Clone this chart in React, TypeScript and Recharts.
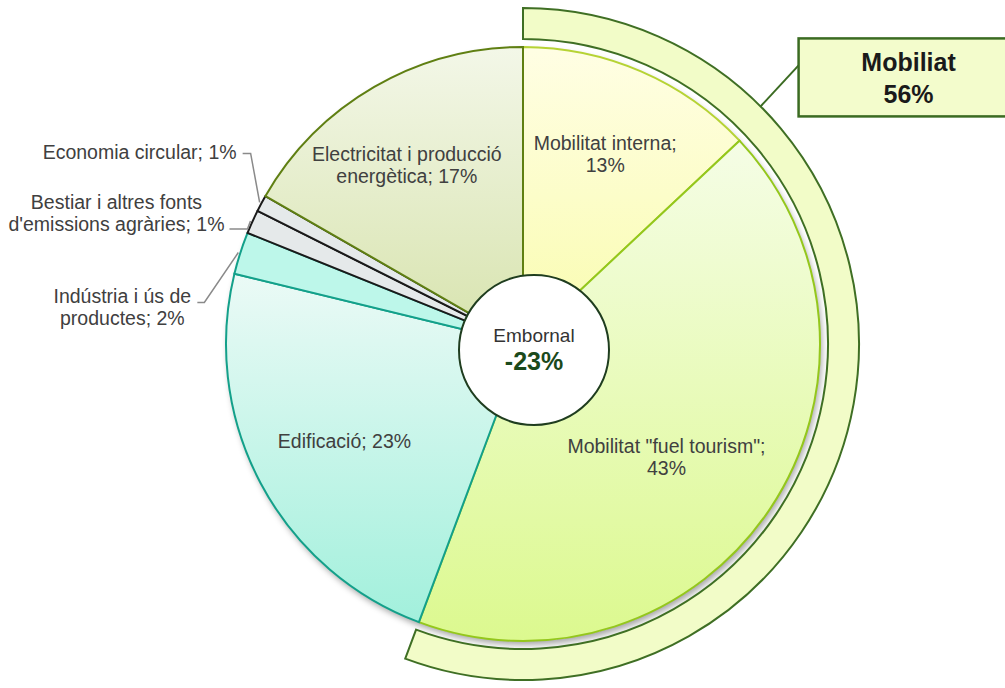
import { PieChart, Pie, Cell } from "recharts";

// Emission shares by sector (%), clockwise from 12 o'clock
const SECTORS = [
  "Mobilitat interna",
  'Mobilitat "fuel tourism"',
  "Edificació",
  "Indústria i ús de productes",
  "Bestiar i altres fonts d'emissions agràries",
  "Economia circular",
  "Electricitat i producció energètica",
];
const SHARES = [13, 42.7, 23.1, 2.3, 1.3, 0.9, 16.7];
const MOBILITY_SECTORS = ["Mobilitat interna", 'Mobilitat "fuel tourism"'];
const MOBILITY_LABEL = "Mobiliat";
const SINK_LABEL = "Embornal";
const SINK_SHARE = -23;

const FONT = "'Liberation Sans', Arial, sans-serif";
const TEXT = "#404040";
const RADIAN = Math.PI / 180;

const CX = 523;
const CY = 344;
const R = 297;

const STYLES = [
  { fill: "url(#gInterna)", stroke: "#b6d334" },
  { fill: "url(#gFuel)", stroke: "#94c71c" },
  { fill: "url(#gEdif)", stroke: "#13a08a" },
  { fill: "#bdf7ea", stroke: "#13a08a" },
  { fill: "#e5e9ea", stroke: "#1a1a1a" },
  { fill: "#e5e9ea", stroke: "#1a1a1a" },
  { fill: "url(#gElec)", stroke: "#5f7f12" },
];

// label placement per slice: inside (radius, nudge) or outside (leader elbow + text offset)
type Layout =
  | { kind: "in"; r: number; dx: number; dy: number; wrap: number }
  | { kind: "out"; ex: number; ey: number; hx: number; tx: number; ty: number; wrap: number; anchor: "middle" | "end" };
const LAYOUT: Layout[] = [
  { kind: "in", r: 207, dx: 0, dy: 0, wrap: 2 },
  { kind: "in", r: 182, dx: -8, dy: 12, wrap: 3 },
  { kind: "in", r: 202, dx: 0, dy: 2, wrap: 0 },
  { kind: "out", ex: -34, ey: 50, hx: 7, tx: -75, ty: 5, wrap: 4, anchor: "middle" },
  { kind: "out", ex: -3, ey: 8, hx: 18, tx: -113, ty: -16, wrap: 4, anchor: "middle" },
  { kind: "out", ex: -9, ey: -49, hx: 8, tx: -6, ty: -1, wrap: 0, anchor: "end" },
  { kind: "in", r: 210, dx: -11, dy: 3, wrap: 3 },
];

const data = SECTORS.map((name, i) => ({ name, value: SHARES[i] }));
const mobility = SHARES.filter((_, i) => MOBILITY_SECTORS.includes(SECTORS[i])).reduce((a, b) => a + b, 0);
const ringData = [
  { name: MOBILITY_LABEL, value: mobility },
  { name: "resta", value: 100 - mobility },
];
const sinkData = [{ name: SINK_LABEL, value: Math.abs(SINK_SHARE) }];

function polar(cx: number, cy: number, r: number, midAngle: number) {
  return { x: cx + r * Math.cos(-midAngle * RADIAN), y: cy + r * Math.sin(-midAngle * RADIAN) };
}

function splitLines(text: string, wrap: number) {
  if (!wrap) return [text];
  const words = text.split(" ");
  return [words.slice(0, wrap).join(" "), words.slice(wrap).join(" ")];
}

function Lines({ x, y, lines, anchor }: { x: number; y: number; lines: string[]; anchor: string }) {
  const lh = 22;
  const y0 = y - ((lines.length - 1) * lh) / 2;
  return (
    <text x={x} y={y0} textAnchor={anchor} fontFamily={FONT} fontSize={19.5} fill={TEXT}>
      {lines.map((l, i) => (
        <tspan key={i} x={x} y={y0 + i * lh} dominantBaseline="central">{l}</tspan>
      ))}
    </text>
  );
}

function SectorLabel(props: any) {
  const { cx, cy, midAngle, outerRadius, index, name, value } = props;
  const lay = LAYOUT[index];
  const text = `${name}; ${Math.round(value)}%`;
  const lines = splitLines(text, lay.wrap);
  if (lay.kind === "in") {
    const p = polar(cx, cy, lay.r, midAngle);
    return <Lines x={p.x + lay.dx} y={p.y + lay.dy} lines={lines} anchor="middle" />;
  }
  const p0 = polar(cx, cy, outerRadius + 2, midAngle);
  const elbow = { x: p0.x + lay.ex, y: p0.y + lay.ey };
  const end = { x: elbow.x - lay.hx, y: elbow.y };
  return (
    <g>
      <polyline points={`${p0.x},${p0.y} ${elbow.x},${elbow.y} ${end.x},${end.y}`} fill="none" stroke="#8a8a8a" strokeWidth={1.5} />
      <Lines x={end.x + lay.tx} y={end.y + lay.ty} lines={lines} anchor={lay.anchor} />
    </g>
  );
}

function RingLabel(props: any) {
  const { cx, cy, outerRadius, index, name, value } = props;
  if (index !== 0) return null;
  const s = polar(cx, cy, outerRadius, 45);
  const e = { x: s.x + 38, y: s.y - 41 };
  const boxTop = e.y - 27;
  return (
    <g>
      <line x1={s.x} y1={s.y} x2={e.x} y2={e.y} stroke="#3b6b22" strokeWidth={2} />
      <rect x={e.x} y={boxTop} width={220} height={78} fill="#f3fccc" stroke="#3b6b22" strokeWidth={2.5} />
      <text x={e.x + 110} y={boxTop + 24} textAnchor="middle" dominantBaseline="central" fontFamily={FONT} fontSize={25} fontWeight="bold" fill="#1a1a1a">{name}</text>
      <text x={e.x + 110} y={boxTop + 56} textAnchor="middle" dominantBaseline="central" fontFamily={FONT} fontSize={25} fontWeight="bold" fill="#1a1a1a">{`${Math.round(value)}%`}</text>
    </g>
  );
}

function SinkLabel(props: any) {
  const { cx, cy, outerRadius, name } = props;
  return (
    <g>
      <circle cx={cx} cy={cy} r={outerRadius} fill="none" stroke="#1f3d1f" strokeWidth={2} />
      <text x={cx} y={cy - 15} textAnchor="middle" dominantBaseline="central" fontFamily={FONT} fontSize={19} fill="#333">{name}</text>
      <text x={cx} y={cy + 11} textAnchor="middle" dominantBaseline="central" fontFamily={FONT} fontSize={25} fontWeight="bold" fill="#1b4a1b">{`${SINK_SHARE}%`}</text>
    </g>
  );
}

export default function App() {
  return (
    <div style={{ position: "absolute", left: 0, top: 0, background: "#fff" }}>
      <PieChart width={1005} height={688} margin={{ top: 0, right: 0, bottom: 0, left: 0 }}>
        <defs>
          <linearGradient id="gInterna" x1="0" y1="0" x2="0" y2="1">
            <stop offset="0%" stopColor="#fffee4" />
            <stop offset="100%" stopColor="#f9fcae" />
          </linearGradient>
          <linearGradient id="gFuel" x1="0" y1="0" x2="0" y2="1">
            <stop offset="0%" stopColor="#f5fde6" />
            <stop offset="100%" stopColor="#dcf98f" />
          </linearGradient>
          <linearGradient id="gEdif" x1="0" y1="0" x2="0" y2="1">
            <stop offset="0%" stopColor="#ebfaf6" />
            <stop offset="100%" stopColor="#a2f0dc" />
          </linearGradient>
          <linearGradient id="gElec" x1="0" y1="0" x2="0" y2="1">
            <stop offset="0%" stopColor="#f3f7e8" />
            <stop offset="100%" stopColor="#d7e3ad" />
          </linearGradient>
          <filter id="pieShadow" x="-10%" y="-10%" width="120%" height="125%">
            <feDropShadow dx="2" dy="4" stdDeviation="3" floodColor="#000" floodOpacity="0.35" />
          </filter>
        </defs>
        <Pie data={[{ value: 100 }]} dataKey="value" cx={CX} cy={CY} outerRadius={R} isAnimationActive={false}>
          <Cell fill="#fff" stroke="none" filter="url(#pieShadow)" />
        </Pie>
        <Pie
          data={data}
          dataKey="value"
          nameKey="name"
          cx={CX}
          cy={CY}
          outerRadius={R}
          startAngle={90}
          endAngle={-270}
          isAnimationActive={false}
          labelLine={false}
          label={SectorLabel}
        >
          {data.map((_, i) => (
            <Cell key={i} fill={STYLES[i].fill} stroke={STYLES[i].stroke} strokeWidth={2} />
          ))}
        </Pie>
        <Pie
          data={ringData}
          dataKey="value"
          nameKey="name"
          cx={CX}
          cy={CY}
          innerRadius={305}
          outerRadius={336}
          startAngle={90}
          endAngle={-270}
          isAnimationActive={false}
          labelLine={false}
          label={RingLabel}
        >
          <Cell fill="#f2fcc8" stroke="#3f6f24" strokeWidth={2} />
          <Cell fill="none" stroke="none" />
        </Pie>
        <Pie
          data={sinkData}
          dataKey="value"
          nameKey="name"
          cx={534}
          cy={350}
          outerRadius={75}
          isAnimationActive={false}
          labelLine={false}
          label={SinkLabel}
        >
          <Cell fill="#fff" stroke="none" />
        </Pie>
      </PieChart>
    </div>
  );
}
